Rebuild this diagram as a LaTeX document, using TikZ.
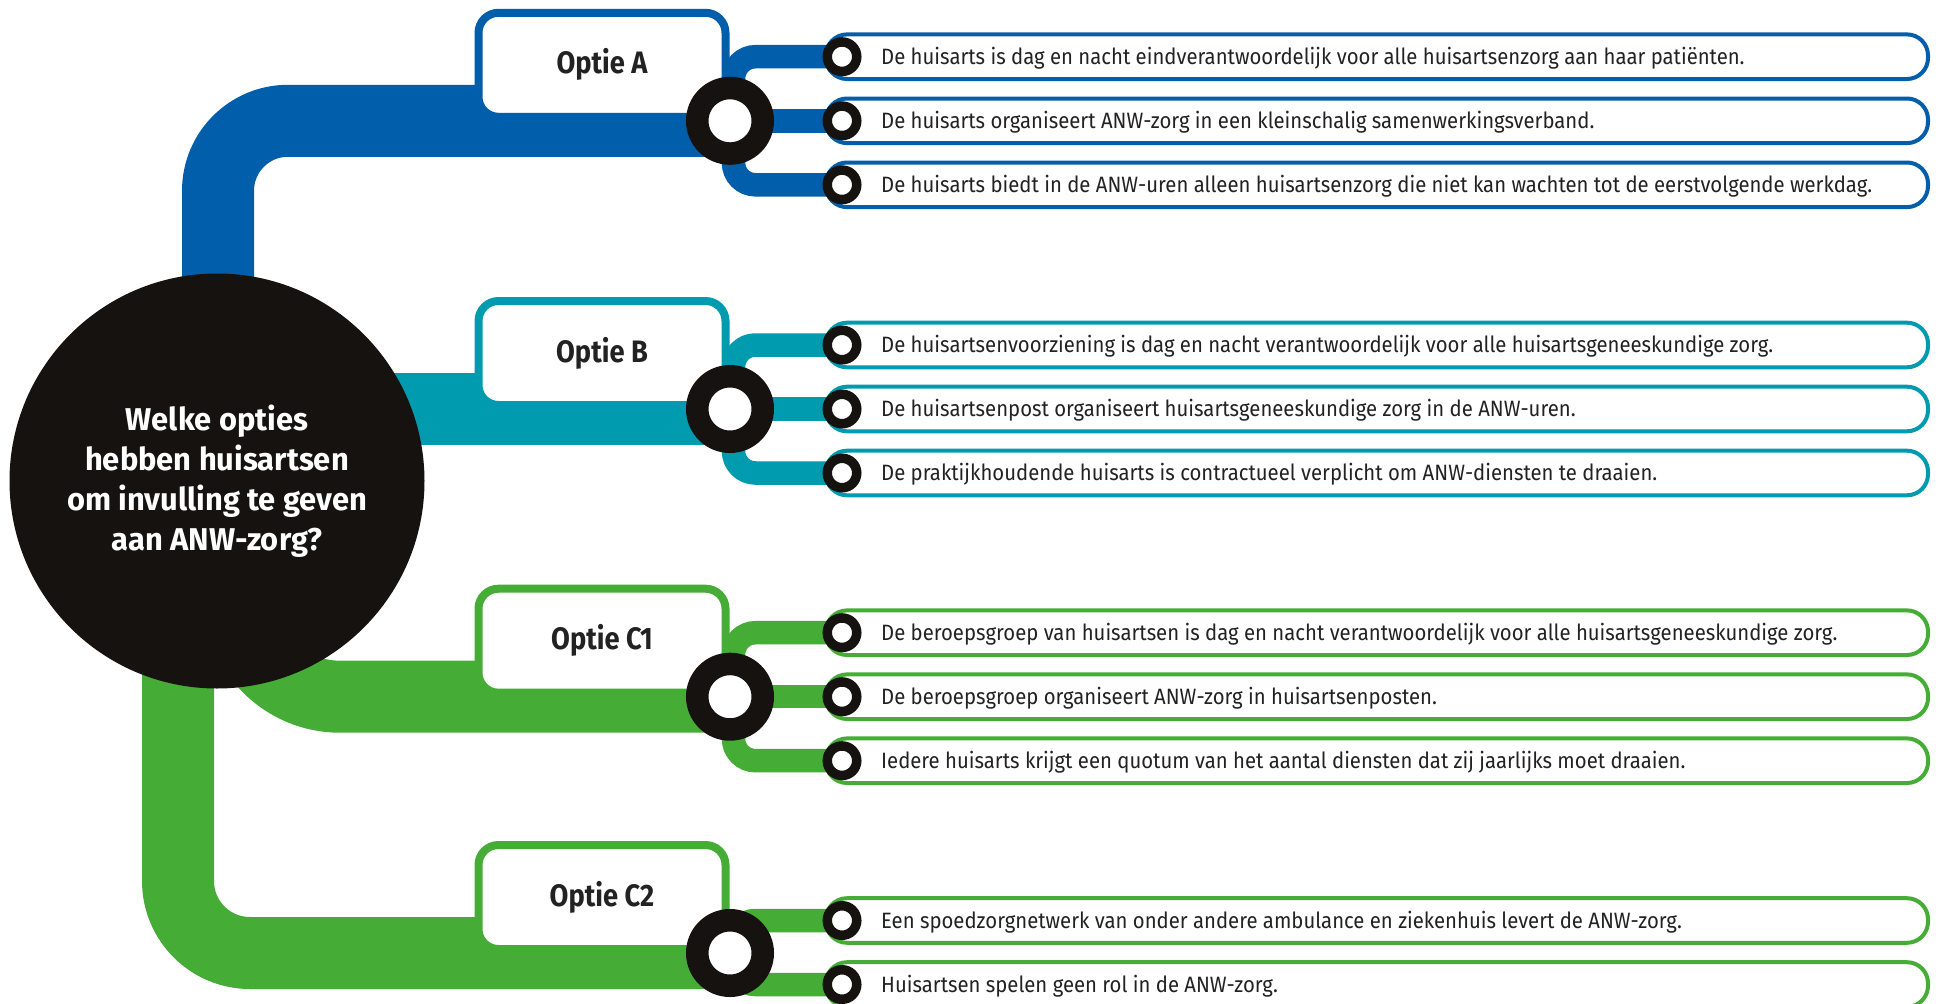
\documentclass[tikz,border=0pt]{standalone}
\usepackage{fontspec}
\setmainfont{Fira Sans}
\newfontfamily\bodyfont[FakeStretch=0.915]{Fira Sans}
\newfontfamily\titlefont[FakeStretch=0.88]{Fira Sans}
\newfontfamily\qfont[FakeStretch=0.98]{Fira Sans}
\definecolor{cblue}{HTML}{005EAA}
\definecolor{cteal}{HTML}{009BAE}
\definecolor{cgreen}{HTML}{45AD35}
\definecolor{cblack}{HTML}{16120F}
\definecolor{ctext}{HTML}{222222}
\pgfdeclarelayer{bg}
\pgfsetlayers{bg,main}
\tikzset{
  band/.style={line width=72pt},
  branch/.style={line width=23.5pt},
  optbox/.style={draw=#1, line width=8pt, fill=white, rounded corners=20pt,
    minimum width=247pt, minimum height=104pt, inner sep=0pt, text=ctext,
    font={\titlefont\bfseries\fontsize{31pt}{31pt}\selectfont}},
  itembox/.style={draw=#1, line width=4pt, fill=white, rounded corners=21pt,
    minimum width=1102pt, minimum height=44.6pt, inner sep=0pt},
  itemtext/.style={anchor=west, inner sep=0pt, text height=15.3pt, text depth=0pt,
    text=ctext, font={\bodyfont\fontsize{22.2pt}{26pt}\selectfont}},
  bigring/.style={circle, draw=cblack, line width=22.5pt, fill=white, minimum size=65.5pt, inner sep=0pt},
  smallring/.style={circle, draw=cblack, line width=9.5pt, fill=white, minimum size=29.5pt, inner sep=0pt},
  question/.style={circle, fill=cblack, minimum size=415pt, inner sep=0pt, text=white, align=center,
    font={\qfont\bfseries\fontsize{31.5pt}{40pt}\selectfont}}
}
\begin{document}
\begin{tikzpicture}[x=1pt,y=-1pt]
\useasboundingbox (0,0) rectangle (1939,1004);
% central question
\node[question] (q) at (217,481) {Welke opties\\hebben huisartsen\\om invulling te geven\\aan ANW-zorg?};
% option boxes
\node[optbox=cblue]  (oA)  at (602,64.8)  {Optie A};
\node[optbox=cteal]  (oB)  at (602,353)   {Optie B};
\node[optbox=cgreen] (oC1) at (602,640.7) {Optie C1};
\node[optbox=cgreen] (oC2) at (602,897)   {Optie C2};
% item boxes
\node[itembox=cblue]  (bA1)  at (1377,56.7)  {};
\node[itembox=cblue]  (bA2)  at (1377,120.8) {};
\node[itembox=cblue]  (bA3)  at (1377,184.8) {};
\node[itembox=cteal]  (bB1)  at (1377,345)   {};
\node[itembox=cteal]  (bB2)  at (1377,409)   {};
\node[itembox=cteal]  (bB3)  at (1377,473)   {};
\node[itembox=cgreen] (bC11) at (1377,632.7) {};
\node[itembox=cgreen] (bC12) at (1377,696.7) {};
\node[itembox=cgreen] (bC13) at (1377,760.7) {};
\node[itembox=cgreen] (bC21) at (1377,920.5) {};
\node[itembox=cgreen] (bC22) at (1377,984.5) {};
% item texts
\node[itemtext] (tA1) at ([xshift=57pt]bA1.west) {De huisarts is dag en nacht eindverantwoordelijk voor alle huisartsenzorg aan haar patiënten.};
\node[itemtext] (tA2) at ([xshift=57pt]bA2.west) {De huisarts organiseert ANW-zorg in een kleinschalig samenwerkingsverband.};
\node[itemtext] (tA3) at ([xshift=57pt]bA3.west) {De huisarts biedt in de ANW-uren alleen huisartsenzorg die niet kan wachten tot de eerstvolgende werkdag.};
\node[itemtext] (tB1) at ([xshift=57pt]bB1.west) {De huisartsenvoorziening is dag en nacht verantwoordelijk voor alle huisartsgeneeskundige zorg.};
\node[itemtext] (tB2) at ([xshift=57pt]bB2.west) {De huisartsenpost organiseert huisartsgeneeskundige zorg in de ANW-uren.};
\node[itemtext] (tB3) at ([xshift=57pt]bB3.west) {De praktijkhoudende huisarts is contractueel verplicht om ANW-diensten te draaien.};
\node[itemtext] (tC11) at ([xshift=57pt]bC11.west) {De beroepsgroep van huisartsen is dag en nacht verantwoordelijk voor alle huisartsgeneeskundige zorg.};
\node[itemtext] (tC12) at ([xshift=57pt]bC12.west) {De beroepsgroep organiseert ANW-zorg in huisartsenposten.};
\node[itemtext] (tC13) at ([xshift=57pt]bC13.west) {Iedere huisarts krijgt een quotum van het aantal diensten dat zij jaarlijks moet draaien.};
\node[itemtext] (tC21) at ([xshift=57pt]bC21.west) {Een spoedzorgnetwerk van onder andere ambulance en ziekenhuis levert de ANW-zorg.};
\node[itemtext] (tC22) at ([xshift=57pt]bC22.west) {Huisartsen spelen geen rol in de ANW-zorg.};
% big rings
\node[bigring] (rA)  at (730,120.8) {};
\node[bigring] (rB)  at (730,409)   {};
\node[bigring] (rC1) at (730,696.7) {};
\node[bigring] (rC2) at (730,953)   {};
% small rings
\node[smallring] (sA1)  at (842,56.7)  {};
\node[smallring] (sA2)  at (842,120.8) {};
\node[smallring] (sA3)  at (842,184.8) {};
\node[smallring] (sB1)  at (842,345)   {};
\node[smallring] (sB2)  at (842,409)   {};
\node[smallring] (sB3)  at (842,473)   {};
\node[smallring] (sC11) at (842,632.7) {};
\node[smallring] (sC12) at (842,696.7) {};
\node[smallring] (sC13) at (842,760.7) {};
\node[smallring] (sC21) at (842,920.5) {};
\node[smallring] (sC22) at (842,984.5) {};
\begin{pgfonlayer}{bg}
\fill[white] (0,0) rectangle (1939,1004);
% main bands
\draw[band, cblue, rounded corners=70pt] ([xshift=1pt]q.center) |- (rA.center);
\draw[band, cteal] (q.center |- rB.center) -- (rB.center);
\draw[band, cgreen, rounded corners=101pt] ([xshift=22pt]q.center) |- (rC1.center);
\draw[band, cgreen, rounded corners=72pt] ([xshift=-39pt]q.center) |- (rC2.center);
% branches A
\draw[branch, cblue, rounded corners=22pt] ([xshift=3.5pt]rA.center) |- (sA1.center);
\draw[branch, cblue] (rA.center) -- (sA2.center);
\draw[branch, cblue, rounded corners=22pt] ([xshift=3.5pt]rA.center) |- (sA3.center);
% branches B
\draw[branch, cteal, rounded corners=22pt] ([xshift=3.5pt]rB.center) |- (sB1.center);
\draw[branch, cteal] (rB.center) -- (sB2.center);
\draw[branch, cteal, rounded corners=22pt] ([xshift=3.5pt]rB.center) |- (sB3.center);
% branches C1
\draw[branch, cgreen, rounded corners=22pt] ([xshift=3.5pt]rC1.center) |- (sC11.center);
\draw[branch, cgreen] (rC1.center) -- (sC12.center);
\draw[branch, cgreen, rounded corners=22pt] ([xshift=3.5pt]rC1.center) |- (sC13.center);
% branches C2
\draw[branch, cgreen, rounded corners=22pt] ([xshift=3.5pt]rC2.center) |- (sC21.center);
\draw[branch, cgreen, rounded corners=22pt] ([xshift=3.5pt]rC2.center) |- (sC22.center);
\end{pgfonlayer}
\end{tikzpicture}
\end{document}
